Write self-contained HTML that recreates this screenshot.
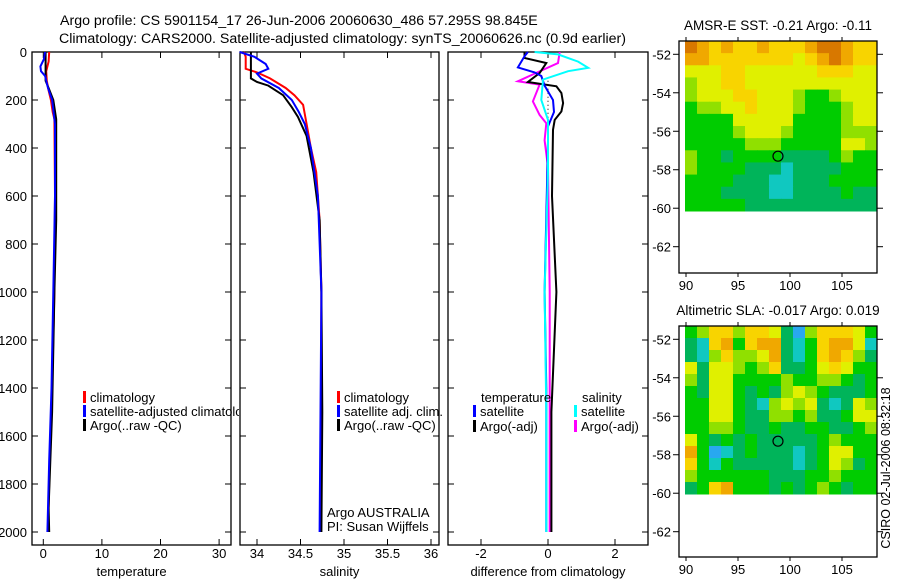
<!DOCTYPE html>
<html><head><meta charset="utf-8"><style>
html,body{margin:0;padding:0;background:#fff;}
svg{display:block;font-family:"Liberation Sans",sans-serif;}
</style></head><body>
<svg id="fig" width="900" height="580" viewBox="0 0 900 580" xmlns="http://www.w3.org/2000/svg">
<text x="60" y="25" font-size="14.2">Argo profile: CS 5901154_17 26-Jun-2006 20060630_486 57.295S 98.845E</text>
<text x="59" y="43" font-size="14.2">Climatology: CARS2000. Satellite-adjusted climatology: synTS_20060626.nc (0.9d earlier)</text>
<defs><clipPath id="c1"><rect x="32" y="40" width="207" height="520"/></clipPath></defs>
<g id="plots"></g>
<text transform="translate(890,468) rotate(-90)" font-size="12.5" text-anchor="middle">CSIRO 02-Jul-2006 08:32:18</text>
</svg>
<script>
// ---------- data ----------
const depthTicks=[0,200,400,600,800,1000,1200,1400,1600,1800,2000];
const tempTicks=[0,10,20,30];
const salTicks=[34,34.5,35,35.5,36];
const salTickLabels=["34","34.5","35","35.5","36"];
const diffTicks=[-2,0,2];
const latTicks=[-52,-54,-56,-58,-60,-62];
const lonTicks=[90,95,100,105];

const tempClimD=[0,40,80,120,160,200,250,280,600,1000,1400,1700,2000];
const tempClimV=[1.0,0.9,0.5,0.6,0.9,1.3,1.6,1.9,2.0,1.9,1.5,1.1,0.8];
const tempSatD=[0,30,60,80,100,150,200,300,600,1000,1400,1700,2000];
const tempSatV=[0.3,0.1,-0.5,-0.4,0.3,0.8,1.5,2.0,2.0,1.7,1.4,1.0,0.7];
const tempArgoD=[0,120,150,200,280,700,1000,1500,1900,2000];
const tempArgoV=[0.4,0.4,0.9,1.7,2.2,2.2,1.9,1.5,0.9,1.0];

const salClimD=[0,20,70,85,110,150,180,220,300,400,500,700,1000,2000];
const salClimV=[33.85,33.87,33.87,34.0,34.15,34.33,34.43,34.53,34.57,34.62,34.68,34.72,34.74,34.73];
const salSatD=[0,20,50,70,90,110,150,200,250,300,400,600,1000,2000];
const salSatV=[33.8,33.97,34.1,34.13,34.0,34.05,34.25,34.4,34.48,34.55,34.62,34.7,34.74,34.72];
const salArgoD=[0,110,125,140,180,230,270,350,500,700,1000,1500,2000];
const salArgoV=[33.93,33.93,34.0,34.13,34.3,34.4,34.47,34.57,34.65,34.72,34.74,34.75,34.74];

const dTsatD=[0,18,64,85,100,140,200,250,310,370,1000,1400,2000];
const dTsatV=[-0.6,-0.7,-0.9,-0.4,-0.2,-0.1,0.15,0.18,0,0,-0.1,-0.05,-0.05];
const dTargoD=[0,25,46,88,125,143,171,213,248,283,324,600,1000,1500,2000];
const dTargoV=[-0.7,-0.7,-0.05,-0.25,-0.6,0.25,0.4,0.45,0.4,0.2,0.15,0.12,0.25,0.1,0.1];
const dSsatD=[0,10,40,66,80,115,200,283,500,1000,1500,2000];
const dSsatV=[-0.4,0.3,0.9,1.2,0.6,-0.15,-0.2,0,0,-0.1,-0.05,-0.05];
const dSargoD=[0,46,90,122,136,206,262,297,368,479,1000,2000];
const dSargoV=[0.35,0.3,-0.4,-0.9,-0.25,-0.45,-0.25,-0.05,-0.1,0,0.05,0.05];

const sstGrid=[
"8767667666788766","7766666665678766","5556655555566655","4556655555555555",
"4555665554334555","3445565554333455","3333555553333455","3333455543333444",
"3333344433333554","4332333322223433","4333322212222333","3333222112223333",
"3332222112222322","3333322222222222"];
const slaGrid=[
"3466466520466653","2167367721367751","2146445721367642","5255434622356533",
"4255333343344323","3255323245432223","3355321454521254","3355322443422355",
"3344322322332234","5323232222234333","7301232221235533","6313222221235423",
"4333333222334333","2367333232343233"];
const argoLon=98.845, argoLat=-57.295;
const palette=["#28a8f0","#10c8c0","#00b45a","#00cc00","#90e000","#e0f000","#f8d400","#f0a800","#d87800"];

// ---------- drawing ----------
const NS="http://www.w3.org/2000/svg";
const root=document.getElementById('plots');
function mk(tag,attrs,parent){const e=document.createElementNS(NS,tag);for(const k in attrs)e.setAttribute(k,attrs[k]);(parent||root).appendChild(e);return e;}
const yD=d=>52+d*0.24;

function panel(x0,x1,xs,ticks,labels,name,xlabel,showY){
  const g=mk('g',{});
  
  
  const r=mk('rect',{x:x0,y:52,width:x1-x0,height:493,fill:'none',stroke:'#000','stroke-width':1.3},g);
  
  
  ticks.forEach((t,i)=>{
    const x=xs(t);
    mk('line',{x1:x,x2:x,y1:545,y2:539,stroke:'#000'},g);
    mk('line',{x1:x,x2:x,y1:52,y2:58,stroke:'#000'},g);
    const tl=mk('text',{x:x,y:558,'font-size':13,'text-anchor':'middle'},g);
    tl.textContent=labels[i];
    
    
  });
  depthTicks.forEach(d=>{
    const y=yD(d);
    mk('line',{x1:x0,x2:x0+6,y1:y,y2:y,stroke:'#000'},g);
    mk('line',{x1:x1,x2:x1-6,y1:y,y2:y,stroke:'#000'},g);
    if(showY){
      const tl=mk('text',{x:27,y:y+5,'font-size':13,'text-anchor':'end'},g);
      tl.textContent=d;
      
      
    }
  });
  const xl=mk('text',{x:(x0+x1)/2,y:576,'font-size':13,'text-anchor':'middle'},g);
  xl.textContent=xlabel;
  
  
  return g;
}
function line(D,V,xs,color,name,g){
  const pts=D.map((d,i)=>xs(V[i]).toFixed(1)+','+yD(d).toFixed(1)).join(' ');
  const p=mk('polyline',{points:pts,fill:'none',stroke:color,'stroke-width':2},g);
  
  
}
function legend(x,y,color,label,g,clip){
  const m=mk('rect',{x:x-1,y:y-10,width:3,height:12,fill:color},g);
  
  
  const t=mk('text',{x:x+6,y:y+1,'font-size':13},g);
  if(clip)t.setAttribute('clip-path','url(#c1)');
  t.textContent=label;
  
  
}

// temperature
const xT=v=>43.3+v*5.86;
const g1=panel(32,231,xT,tempTicks,tempTicks.map(String),'temperature-panel','temperature',true);
line(tempClimD,tempClimV,xT,'#ff0000','temp-climatology-line',g1);
line(tempArgoD,tempArgoV,xT,'#000000','temp-argo-line',g1);
line(tempSatD,tempSatV,xT,'#0000ff','temp-satellite-line',g1);
legend(84,401,'#ff0000','climatology',g1,true);
legend(84,415,'#0000ff','satellite-adjusted climatology',g1,true);
legend(84,429,'#000000','Argo(..raw -QC)',g1,true);

// salinity
const xS=v=>257+(v-34)*87;
const g2=panel(240,439,xS,salTicks,salTickLabels,'salinity-panel','salinity',false);
line(salClimD,salClimV,xS,'#ff0000','sal-climatology-line',g2);
line(salArgoD,salArgoV,xS,'#000000','sal-argo-line',g2);
line(salSatD,salSatV,xS,'#0000ff','sal-satellite-line',g2);
legend(338,401,'#ff0000','climatology',g2);
legend(338,415,'#0000ff','satellite adj. clim.',g2);
legend(338,429,'#000000','Argo(..raw -QC)',g2);
const a1=mk('text',{x:327,y:517,'font-size':13},g2);a1.textContent='Argo AUSTRALIA';


const a2=mk('text',{x:327,y:531,'font-size':13},g2);a2.textContent='PI: Susan Wijffels';



// difference
const xDf=v=>548+v*33.5;
const g3=panel(448,648,xDf,diffTicks,diffTicks.map(String),'difference-panel','difference from climatology',false);
mk('line',{x1:xDf(0),x2:xDf(0),y1:yD(120),y2:yD(290),stroke:'#000','stroke-dasharray':'1,3'},g3);
line(dSargoD,dSargoV,xDf,'#ff00ff','sal-argo-diff-line',g3);
line(dTargoD,dTargoV,xDf,'#000000','temp-argo-diff-line',g3);
line(dTsatD,dTsatV,xDf,'#0000ff','temp-satellite-diff-line',g3);
line(dSsatD,dSsatV,xDf,'#00ffff','sal-satellite-diff-line',g3);
const h1=mk('text',{x:481,y:402,'font-size':13},g3);h1.textContent='temperature';


const h2=mk('text',{x:582,y:402,'font-size':13},g3);h2.textContent='salinity';


legend(474,415,'#0000ff','satellite',g3);
legend(474,430,'#000000','Argo(-adj)',g3);
legend(575,415,'#00ffff','satellite',g3);
legend(575,430,'#ff00ff','Argo(-adj)',g3);

// maps
function map(top,bottom,dataBottom,grid,title,name){
  const g=mk('g',{});
  
  
  const xL=v=>686+(v-90)*10.4;
  const yL=v=>top+13.3+(-52-v)*19.24;
  const rows=grid.length, cols=grid[0].length;
  const x0=685,x1=877,cw=(x1-x0)/cols,ch=(dataBottom-top)/rows;
  grid.forEach((row,r)=>{
    for(let c=0;c<cols;c++){
      const cell=mk('rect',{x:(x0+c*cw).toFixed(2),y:(top+r*ch).toFixed(2),width:(cw+0.5).toFixed(2),height:(ch+0.5).toFixed(2),fill:palette[+row[c]]},g);
      
      
    }
  });
  const fr=mk('rect',{x:679,y:top,width:198,height:bottom-top,fill:'none',stroke:'#000','stroke-width':1.3},g);
  
  
  latTicks.forEach(l=>{
    const y=yL(l);
    mk('line',{x1:673,x2:679,y1:y,y2:y,stroke:'#000'},g);
    mk('line',{x1:877,x2:883,y1:y,y2:y,stroke:'#000'},g);
    const t=mk('text',{x:671,y:y+5,'font-size':13,'text-anchor':'end'},g);
    t.textContent=l;
    
    
  });
  lonTicks.forEach(l=>{
    const x=xL(l);
    mk('line',{x1:x,x2:x,y1:top-4,y2:top,stroke:'#000'},g);
    mk('line',{x1:x,x2:x,y1:bottom,y2:bottom+4,stroke:'#000'},g);
    const t=mk('text',{x:x,y:bottom+17,'font-size':13,'text-anchor':'middle'},g);
    t.textContent=l;
    
    
  });
  const c=mk('circle',{cx:xL(argoLon),cy:yL(argoLat),r:5,fill:'none',stroke:'#000','stroke-width':1.2},g);
  
  
  const t=mk('text',{x:778,y:top-11,'font-size':13.5,'text-anchor':'middle'},g);
  t.textContent=title;
  
  
}
map(41,273,211,sstGrid,'AMSR-E SST: -0.21 Argo: -0.11','sst-map');
map(326,557,494,slaGrid,'Altimetric SLA: -0.017 Argo: 0.019','sla-map');
</script>
</body></html>
